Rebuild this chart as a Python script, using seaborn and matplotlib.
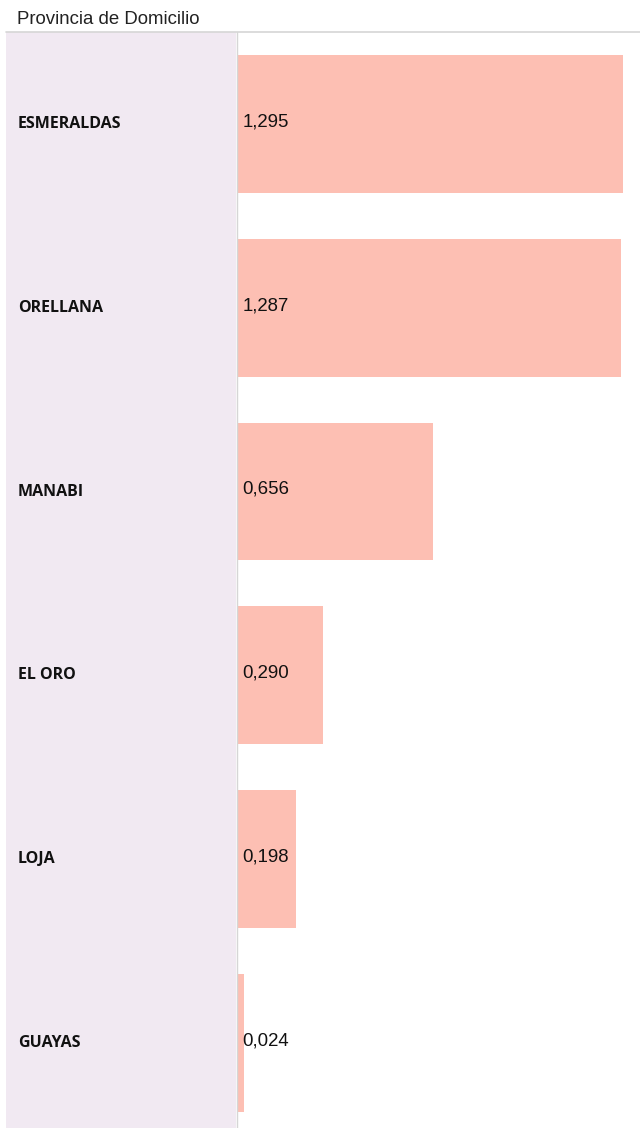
"""
Provincia de Domicilio — horizontal bar chart
"""

import matplotlib
matplotlib.use("Agg")
import matplotlib.pyplot as plt
import matplotlib.transforms as mtransforms
import seaborn as sns
import pandas as pd

# ── Data ────────────────────────────────────────────────────────────────────
PROVINCIAS = ['ESMERALDAS', 'ORELLANA', 'MANABI', 'EL ORO', 'LOJA', 'GUAYAS']
VALORES    = [1.295, 1.287, 0.656, 0.290, 0.198, 0.024]
TITULO     = 'Provincia de Domicilio'

BAR_COLOR   = '#fdbfb3'
PANEL_COLOR = '#f1e9f2'
LINE_COLOR  = '#d6d6d6'

df = pd.DataFrame({'provincia': PROVINCIAS, 'valor': VALORES})

# ── Figure / layout (pixel based) ───────────────────────────────────────────
W, H, DPI = 640, 1128, 100
sns.set_theme(style='white')
plt.rcParams['font.family'] = ['Liberation Sans', 'DejaVu Sans']

fig = plt.figure(figsize=(W / DPI, H / DPI), dpi=DPI)
fig.patch.set_facecolor('white')

top_px   = 32
pitch_px = 183.8
ax_h_px  = H - top_px
ymax     = -0.5 + ax_h_px / pitch_px      # bottom row is cut by the figure edge

# label panel on the left
lab = fig.add_axes([6 / W, 0, (236 - 6) / W, ax_h_px / H])
lab.set_facecolor(PANEL_COLOR)

# bars on the right
ax = fig.add_axes([236.5 / W, 0, (W - 236.5) / W, ax_h_px / H], sharey=lab)

sns.barplot(data=df, x='valor', y='provincia', orient='h', color=BAR_COLOR,
            saturation=1, width=0.75, ax=ax, linewidth=0)

ax.set_ylim(ymax, -0.5)
ax.set_xlim(0, (W - 236.5) / 298.8)
ax.set_xlabel(''); ax.set_ylabel('')
ax.set_xticks([]); ax.set_yticks([])
for s in ax.spines.values():
    s.set_visible(False)
for s in lab.spines.values():
    s.set_visible(False)
lab.set_xticks([])
lab.tick_params(left=False, labelleft=False)

# value labels (decimal comma)
for i, v in enumerate(VALORES):
    ax.annotate(f'{v:.3f}'.replace('.', ','), xy=(0, i), xytext=(6, 2),
                textcoords='offset pixels', ha='left', va='center',
                fontsize=13.4, color='#111111')

# category labels inside the panel
trans = mtransforms.blended_transform_factory(lab.transAxes, lab.transData)
for i, name in enumerate(PROVINCIAS):
    lab.text(12 / 230, i, name, transform=trans, ha='left', va='center',
             fontsize=11.5, fontweight='bold', color='#111111',
             family=['Open Sans', 'DejaVu Sans'])

# separator lines
fig.add_artist(plt.Line2D([236.5 / W, 236.5 / W], [0, 1 - top_px / H],
                          color=LINE_COLOR, lw=1))
fig.add_artist(plt.Line2D([6 / W, 1], [1 - 31.5 / H, 1 - 31.5 / H],
                          color=LINE_COLOR, lw=1.2))

# header
fig.text(17 / W, 1 - 19.5 / H, TITULO, ha='left', va='center',
         fontsize=13.4, color='#222222')

fig.savefig('out.png', dpi=DPI, facecolor='white')
